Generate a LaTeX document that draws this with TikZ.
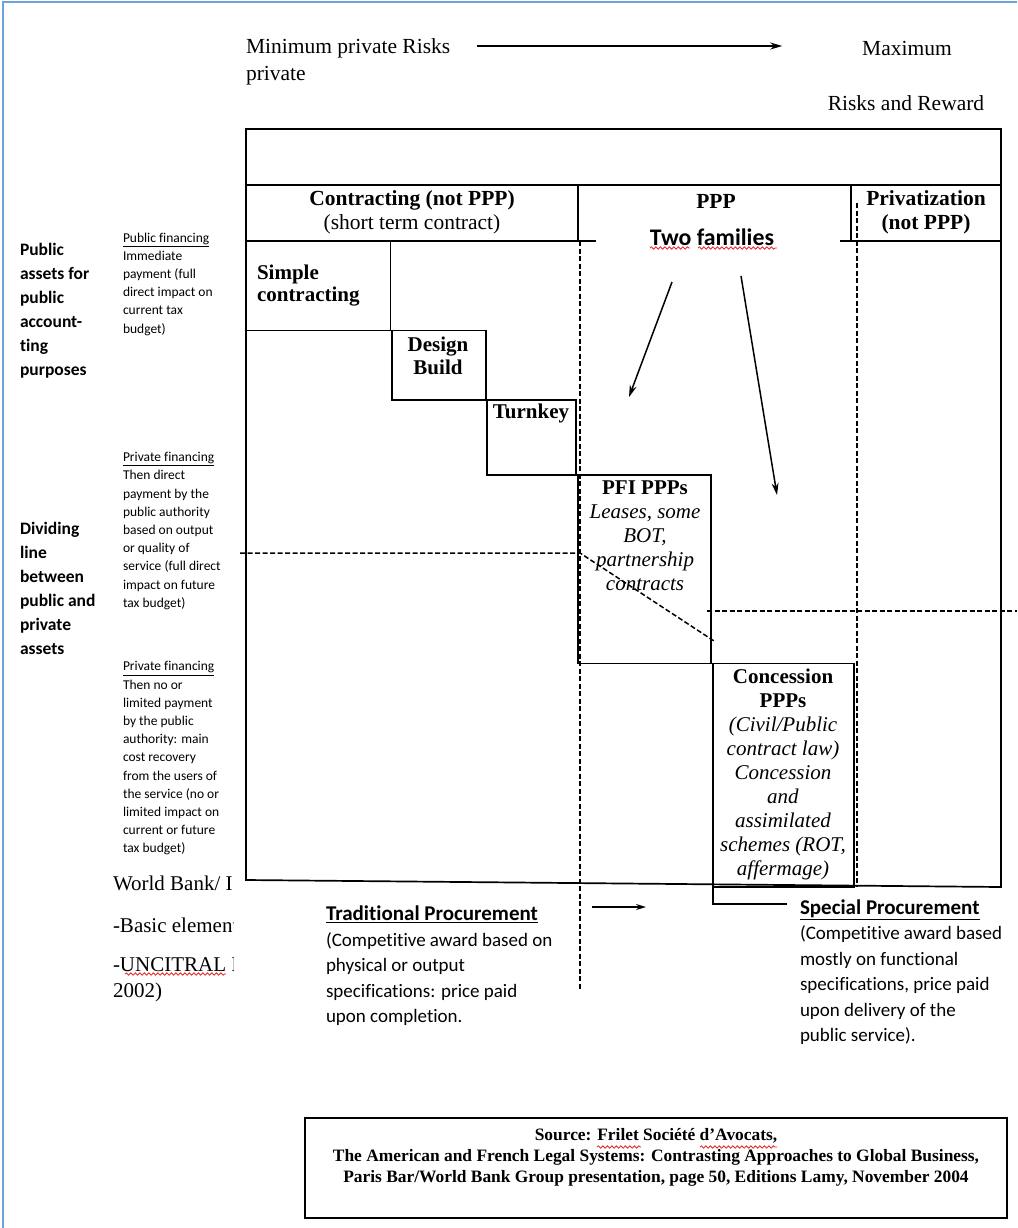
\documentclass[tikz,border=0pt]{standalone}
\usepackage{fontspec}
\setmainfont{Liberation Serif}
\newfontfamily\carl[Ligatures={NoCommon}]{Carlito}
\usetikzlibrary{arrows.meta,decorations.pathmorphing}
\definecolor{wordblue}{HTML}{6FA3DA}
\definecolor{spellred}{HTML}{E5262A}
\newcommand{\setfs}[2]{\fontsize{#1}{#2}\selectfont}
\tikzset{
  txt/.style={inner sep=0pt, outer sep=0pt},
  frm/.style={line width=1.7pt},
  dashln/.style={line width=1.5pt, dash pattern=on 5pt off 2.5pt},
  boxn/.style={draw, line width=1.7pt, inner sep=0pt, outer sep=0pt, anchor=north west},
  arr/.style={line width=1.5pt, -{Stealth[length=12pt,width=7pt]}},
  wavy/.style={spellred, line width=0.8pt, decorate, decoration={snake, amplitude=1.2pt, segment length=4.5pt}},
  tnr/.style={txt, font=\setfs{21.5}{24}},
  boxtxt/.style={txt, align=center, font=\setfs{21}{24}},
  sidebold/.style={txt, anchor=west, align=left, font=\carl\bfseries\setfs{17.5}{24}},
  sidesmall/.style={txt, anchor=west, align=left, font=\carl\setfs{13.5}{18.2}},
  proc/.style={txt, anchor=west, align=left, font=\carl\setfs{19}{25.5}},
}
\begin{document}
\begin{tikzpicture}[x=1pt,y=-1pt]
\useasboundingbox (0,0) rectangle (1017,1228);
\fill[white] (0,0) rectangle (1017,1228);
% page border
\draw[wordblue, line width=2pt] (3,1228) -- (3,2) -- (1017,2);

% top scale
\node[tnr, anchor=west] (minrisk) at (246,48) {Minimum private Risks};
\node[tnr, anchor=west] (minpriv) at (246,76) {private};
\node[tnr] (maxtxt) at (907,48) {Maximum};
\node[tnr] (maxrr) at (906,103) {Risks and Reward};
\draw[arr] ([xshift=27pt]minrisk.east |- 0,46) -- ([xshift=-80pt]maxtxt.west |- 0,46);

% frame
\node[boxn, minimum width=755pt, minimum height=56pt] (topbox) at (246,129) {};
\draw[frm] (246,185) -- (246,880) -- (1001,887) -- (1001,185);
\draw[frm] (246,241) -- (596,241);
\draw[frm] (840,241) -- (1001,241);
\draw[frm] (578,185) -- (578,241);
\draw[frm] (851,185) -- (851,241);

% headers
\node[txt, align=center, font=\setfs{21.5}{23.5}] (hcontr) at (412,212.5) {\textbf{Contracting (not PPP)}\\(short term contract)};
\node[txt, font=\bfseries\setfs{21.5}{23.5}] (hppp) at (716,201) {PPP};
\node[txt, align=center, font=\bfseries\setfs{21.5}{23.5}] (hpriv) at (926,212.5) {Privatization\\(not PPP)};
\node[txt, font=\carl\bfseries\setfs{23.8}{26}] (twofam) at (712,237) {Two families};
\draw[wavy] (650,248) -- (690,248);
\draw[wavy] (698,248) -- (777,248);

% dashed lines
\draw[dashln] (580,241) -- (580,990);
\draw[dashln] (857,203) -- (857,887);
\draw[dashln] (240,553) -- (580,553) -- (714,641);
\draw[dashln] (707,611) -- (1017,611);

% staircase boxes
\node[boxn, minimum width=144.5pt, minimum height=89.5pt] (simple) at (246,241) {};
\node[boxn, minimum width=94pt, minimum height=69.5pt] (design) at (392,330.5) {};
\node[boxn, minimum width=89pt, minimum height=75pt] (turnkey) at (487,400) {};
\node[boxn, minimum width=133pt, minimum height=188.5pt] (pfi) at (578,475) {};
\node[boxn, minimum width=141pt, minimum height=223.5pt] (conc) at (713,663.5) {};

\node[txt, anchor=west, align=left, font=\bfseries\setfs{21}{22.5}] (simpletxt) at (257,285.5) {Simple\\contracting};
\node[boxtxt, font=\bfseries\setfs{21}{23}] (designtxt) at (438,355.5) {Design\\Build};
\node[boxtxt, font=\bfseries\setfs{21}{23}] (turnkeytxt) at (531,413) {Turnkey};
\node[boxtxt] (pfitxt) at (645,536) {\textbf{PFI PPPs}\\\textit{Leases, some}\\\textit{BOT,}\\\textit{partnership}\\\textit{contracts}};
\node[boxtxt] (conctxt) at (783,774) {\textbf{Concession}\\\textbf{PPPs}\\\textit{(Civil/Public}\\\textit{contract law)}\\\textit{Concession}\\\textit{and}\\\textit{assimilated}\\\textit{schemes (ROT,}\\\textit{affermage)}};

% arrows from Two families
\coordinate (tfa) at (672,282);
\coordinate (tfb) at (629,397);
\coordinate (tfc) at (741,276);
\coordinate (tfd) at (777,495);
\draw[arr] (tfa) -- (tfb);
\draw[arr] (tfc) -- (tfd);

% left side labels
\node[sidebold] (pubassets) at (20,311) {Public\\assets for\\public\\account-\\ting\\purposes};
\node[sidebold] (dividing) at (20,588) {Dividing\\line\\between\\public and\\private\\assets};
\node[sidesmall] (pubfin) at (123,284) {\underline{Public financing}\\Immediate\\payment (full\\direct impact on\\current tax\\budget)};
\node[sidesmall] (privfin1) at (123,531) {\underline{Private financing}\\Then direct\\payment by the\\public authority\\based on output\\or quality of\\service (full direct\\impact on future\\tax budget)};
\node[sidesmall] (privfin2) at (123,758.5) {\underline{Private financing}\\Then no or\\limited payment\\by the public\\authority: main\\cost recovery\\from the users of\\the service (no or\\limited impact on\\current or future\\tax budget)};

% clipped text bottom left
\begin{scope}
\clip (100,860) rectangle (233,1010);
\node[tnr, anchor=west, font=\setfs{21}{24}] (wb) at (113,883) {World Bank/ I};
\node[tnr, anchor=west, font=\setfs{21}{24}] (basic) at (113,925) {-Basic elements};
\node[tnr, anchor=west, font=\setfs{21}{24}] (uncitral) at (113,965) {-UNCITRAL I};
\end{scope}
\draw[wavy] (125,974) -- (226,974);
\node[tnr, anchor=west, font=\setfs{21}{24}] (y2002) at (113,992) {2002)};

% procurement
\node[proc] (tradproc) at (326,966) {{\setfs{21}{25.5}\bfseries\underline{Traditional Procurement}}\\(Competitive award based on\\physical or output\\specifications: price paid\\upon completion.};
\coordinate (sma) at (592,907);
\coordinate (smb) at (646,907);
\draw[line width=1.4pt, -{Stealth[length=10pt,width=6pt]}] (sma) -- (smb);
\node[proc] (specproc) at (800,972) {{\setfs{21}{25.5}\bfseries\underline{Special Procurement}}\\(Competitive award based\\mostly on functional\\specifications, price paid\\upon delivery of the\\public service).};
\draw[frm] (conc.south west) -- ++(0,17) -- (787,904);

% source box
\node[boxn, minimum width=702pt, minimum height=100pt] (srcbox) at (305,1118) {};
\node[txt, align=center, font=\bfseries\setfs{17.4}{21}] (srctxt) at (656,1157.5) {Source: Frilet Société d’Avocats,\\The American and French Legal Systems: Contrasting Approaches to Global Business,\\Paris Bar/World Bank Group presentation, page 50, Editions Lamy, November 2004};
\draw[wavy] (597,1147) -- (641,1147);
\draw[wavy] (700,1147) -- (777,1147);
\end{tikzpicture}
\end{document}
